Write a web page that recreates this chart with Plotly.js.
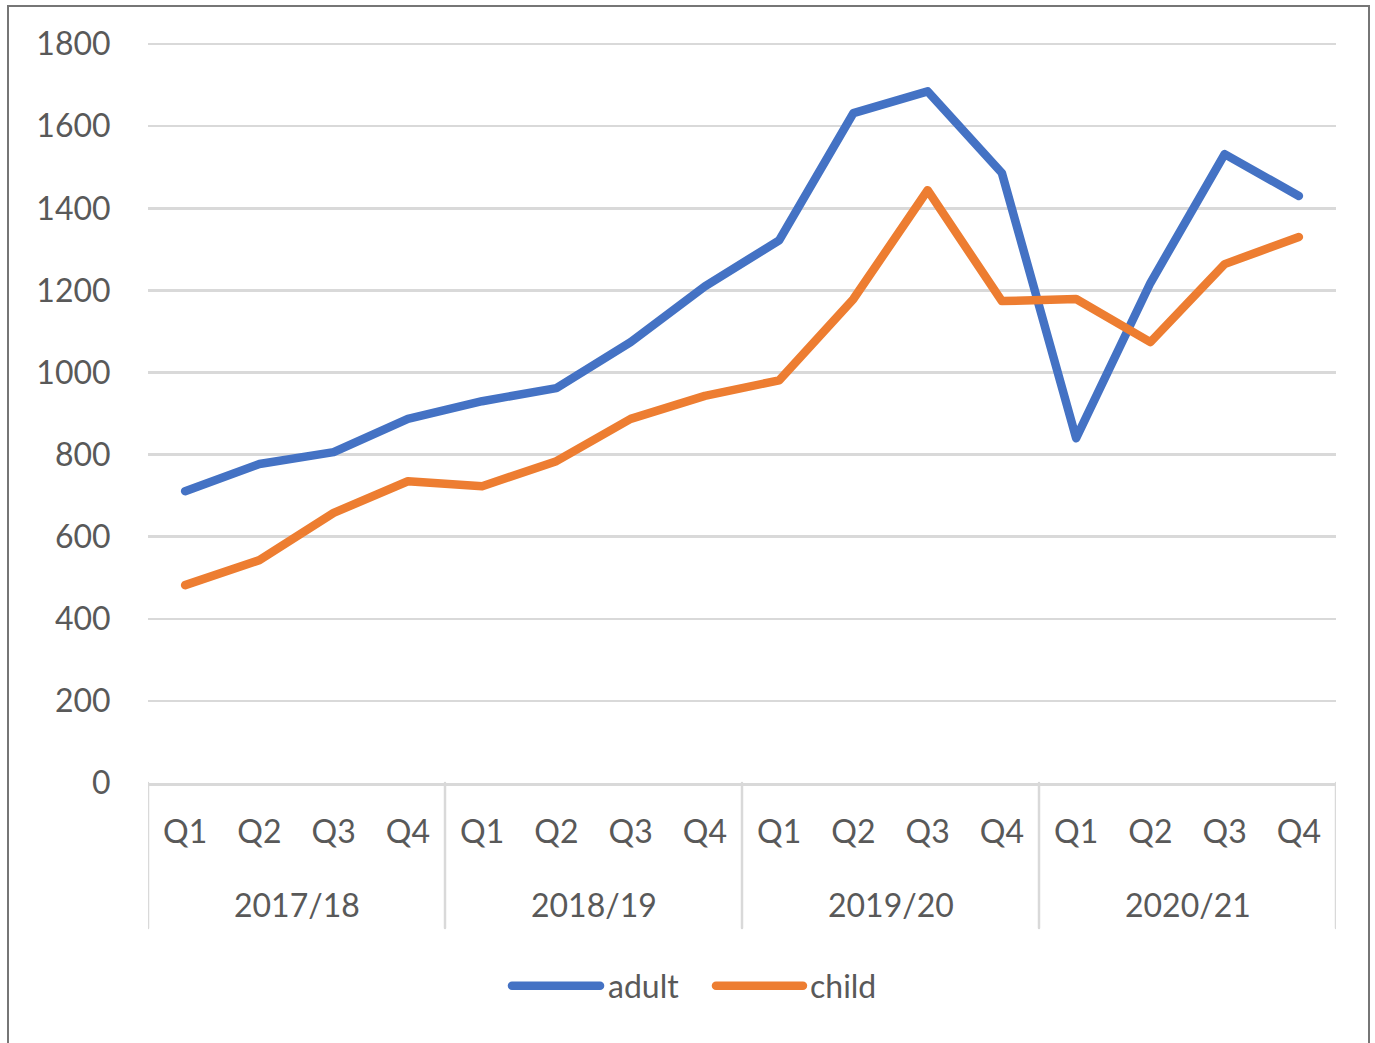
<!DOCTYPE html>
<html>
<head>
<meta charset="utf-8">
<script src="https://cdn.plot.ly/plotly-3.0.1.min.js"></script>
<style>
  body { margin: 0; background: #fff; }
  #frame {
    position: absolute; left: 7px; top: 5px; width: 1363px; height: 1100px;
    border: 2px solid #767676; box-sizing: border-box;
  }
  #graph { position: absolute; left: 0; top: 0; width: 1375px; height: 1043px; }
  #graph .js-line, #graph .shapelayer path {
    stroke-linecap: round !important; stroke-linejoin: round !important;
  }
</style>
</head>
<body>
<div id="frame"></div>
<div id="graph"></div>
<script>
const years = ["2017/18", "2018/19", "2019/20", "2020/21"]
const quarters = ["Q1", "Q2", "Q3", "Q4"]
const seriesNames = ["adult", "child"]
const adult = [711, 777, 806, 887, 930, 962, 1074, 1210, 1322, 1632, 1685, 1486, 840, 1218, 1532, 1430]
const child = [482, 543, 658, 735, 723, 784, 887, 943, 981, 1179, 1444, 1174, 1179, 1074, 1264, 1330]
const colors = ["#4472C4", "#ED7D31"]

window.onload = function () {
  const textColor = "#595959"
  const gridColor = "#D9D9D9"
  const font = "Lato, 'Open Sans', sans-serif"

  // one position per year/quarter pair
  const xIdx = []
  const xText = []
  years.forEach(function (y, yi) {
    quarters.forEach(function (q, qi) {
      xIdx.push(yi * quarters.length + qi)
      xText.push(q)
    })
  })

  const data = [adult, child].map(function (vals, i) {
    return {
      x: xIdx,
      y: vals,
      mode: "lines",
      name: seriesNames[i],
      line: { color: colors[i], width: 8.5 },
      showlegend: false,
      hoverinfo: "x+y",
    }
  })

  const shapes = []
  const annotations = []
  const n = quarters.length
  // group dividers under the axis
  for (let g = 0; g <= years.length; g++) {
    shapes.push({
      type: "line", xref: "x", yref: "paper",
      x0: g * n - 0.5, x1: g * n - 0.5, y0: 0, y1: -0.195,
      line: { color: gridColor, width: 2.5 },
    })
  }
  years.forEach(function (y, yi) {
    annotations.push({
      xref: "x", yref: "paper", x: yi * n + (n - 1) / 2, y: -0.164,
      text: y, showarrow: false, yanchor: "middle",
      font: { family: font, size: 32, color: textColor },
    })
  })

  // legend drawn by hand so the line samples can be long
  const legendPos = [
    { x0: 0.3064, x1: 0.3805, tx: 0.3855 },
    { x0: 0.4781, x1: 0.5513, tx: 0.5556 },
  ]
  seriesNames.forEach(function (name, i) {
    const p = legendPos[i]
    shapes.push({
      type: "line", xref: "paper", yref: "paper",
      x0: p.x0, x1: p.x1, y0: -0.273, y1: -0.273,
      line: { color: colors[i], width: 8.5 },
    })
    annotations.push({
      xref: "paper", yref: "paper", x: p.tx, y: -0.272,
      text: name, showarrow: false, xanchor: "left", yanchor: "middle",
      font: { family: font, size: 32, color: textColor },
    })
  })

  const layout = {
    width: 1375,
    height: 1043,
    margin: { l: 148, r: 39, t: 40, b: 260 },
    paper_bgcolor: "rgba(0,0,0,0)",
    plot_bgcolor: "rgba(0,0,0,0)",
    font: { family: font, size: 32, color: textColor },
    showlegend: false,
    xaxis: {
      range: [-0.5, xIdx.length - 0.5],
      tickmode: "array",
      tickvals: xIdx,
      ticktext: xText,
      showgrid: false,
      zeroline: false,
      showline: true,
      linecolor: gridColor,
      linewidth: 2.5,
      ticks: "outside",
      ticklen: 19,
      tickcolor: "rgba(0,0,0,0)",
      tickfont: { family: font, size: 32, color: textColor },
      fixedrange: true,
    },
    yaxis: {
      range: [0, 1810],
      tickmode: "linear",
      tick0: 0,
      dtick: 200,
      showgrid: true,
      gridcolor: gridColor,
      gridwidth: 2.5,
      zeroline: false,
      showline: false,
      ticks: "outside",
      ticklen: 30,
      tickcolor: "rgba(0,0,0,0)",
      tickfont: { family: font, size: 32, color: textColor },
      fixedrange: true,
    },
    shapes: shapes,
    annotations: annotations,
  }

  Plotly.newPlot("graph", data, layout, { displayModeBar: false, staticPlot: true })
}
</script>
</body>
</html>
